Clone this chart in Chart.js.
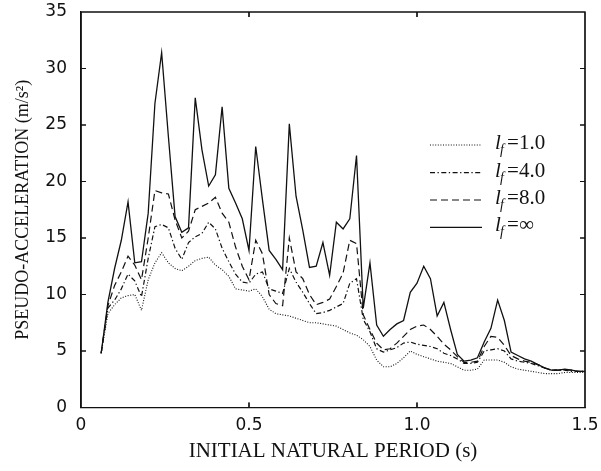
<!DOCTYPE html>
<html><head><meta charset="utf-8">
<script src="https://cdn.jsdelivr.net/npm/chart.js@4.4.0/dist/chart.umd.min.js"></script>
<style>html,body{margin:0;padding:0;background:#fff;} #wrap{width:601px;height:471px;position:relative;}</style>
</head><body><div id="wrap"><canvas id="c" width="601" height="471"></canvas></div>
<script>
const periods = [0.06,0.08,0.10,0.12,0.14,0.16,0.18,0.20,0.22,0.24,0.26,0.28,0.30,0.32,0.34,0.36,0.38,0.40,0.42,0.44,0.46,0.48,0.50,0.52,0.54,0.56,0.58,0.60,0.62,0.64,0.66,0.68,0.70,0.72,0.74,0.76,0.78,0.80,0.82,0.84,0.86,0.88,0.90,0.92,0.94,0.96,0.98,1.00,1.02,1.04,1.06,1.08,1.10,1.12,1.14,1.16,1.18,1.20,1.22,1.24,1.26,1.28,1.30,1.32,1.34,1.36,1.38,1.40,1.42,1.44,1.46,1.48,1.50];

const lf1 = [4.8,8.3,9.1,9.7,9.9,10.0,8.6,11.3,12.8,13.7,12.8,12.3,12.1,12.5,13.0,13.2,13.3,12.6,12.2,11.6,10.5,10.4,10.3,10.5,9.8,8.7,8.3,8.2,8.1,7.9,7.7,7.5,7.5,7.4,7.3,7.2,6.9,6.6,6.4,6.0,5.4,4.2,3.6,3.6,3.9,4.4,5.0,4.7,4.5,4.3,4.1,4.0,3.9,3.6,3.3,3.3,3.4,4.2,4.2,4.2,4.0,3.6,3.4,3.3,3.2,3.1,3.0,3.0,3.0,3.1,3.1,3.1,3.1];

const lf4 = [4.8,8.8,9.5,10.5,11.8,11.2,9.8,13.2,16.0,16.2,15.9,14.1,13.1,14.6,15.1,15.4,16.4,15.8,14.1,12.9,11.8,11.1,11.0,11.8,12.0,10.5,10.3,10.1,12.3,11.1,10.2,9.2,8.3,8.4,8.6,8.9,9.2,11.0,11.4,7.8,6.7,5.2,4.9,5.1,5.3,5.7,5.8,5.6,5.5,5.4,5.2,4.8,4.6,4.3,3.9,3.9,4.0,5.0,5.1,5.2,5.0,4.3,4.1,4.0,3.9,3.7,3.5,3.3,3.3,3.3,3.2,3.2,3.2];

const lf8 = [4.8,9.0,10.8,12.0,13.4,12.6,11.3,15.0,19.2,19.0,18.9,16.6,15.0,15.6,17.5,17.8,18.1,18.6,17.2,16.4,14.2,12.5,11.3,14.8,13.6,10.0,9.2,9.0,15.0,12.0,11.4,10.0,9.1,9.3,9.6,10.7,11.9,14.8,14.5,8.2,6.9,5.7,5.1,5.2,5.7,6.3,6.9,7.2,7.3,6.9,6.3,5.6,5.1,4.5,4.0,4.0,4.1,5.4,6.3,6.2,5.5,4.6,4.3,4.1,4.0,3.8,3.5,3.3,3.3,3.3,3.3,3.2,3.2];

const lfInf = [4.8,9.3,12.3,14.8,18.2,12.8,12.9,17.2,26.9,31.4,24.0,16.9,15.5,15.9,27.4,22.8,19.6,20.6,26.6,19.4,18.1,16.7,13.9,23.1,18.4,13.9,13.1,12.2,25.1,18.7,15.7,12.4,12.5,14.6,11.7,16.4,15.8,16.7,22.3,8.8,12.8,7.3,6.3,6.9,7.4,7.7,10.2,11.0,12.5,11.4,8.1,9.3,6.9,4.7,4.1,4.2,4.4,5.8,7.0,9.5,7.7,4.9,4.6,4.3,4.1,3.8,3.5,3.3,3.3,3.4,3.3,3.2,3.2];

const seriesNames = ['1.0','4.0','8.0','\u221E'];
const xTickValues = [0, 0.5, 1, 1.5];
const yTickValues = [0,5,10,15,20,25,30,35];

const dashes = [[1,1.6],[5,2.5,1.3,2.5],[7,4],[]];
const widths = [1.1,1.2,1.2,1.3];
const seriesValues = [lf1, lf4, lf8, lfInf];

const datasets = seriesValues.map((vals, i) => ({
  label: seriesNames[i],
  data: periods.map((t, k) => ({x: t, y: vals[k]})),
  borderColor: '#111',
  borderWidth: widths[i],
  borderDash: dashes[i],
  pointRadius: 0,
  fill: false,
  tension: 0
}));

function drawFrame(chart) {
  const ctx = chart.ctx;
  const ca = chart.chartArea;
  const xs = chart.scales.x, ys = chart.scales.y;
  const L = ca.left, R = ca.right, T = ca.top, B = ca.bottom;
  ctx.save();
  ctx.setLineDash([]);
  ctx.globalAlpha = 1;
  ctx.strokeStyle = '#111111';
  ctx.lineWidth = 1.2;
  ctx.beginPath();
  ctx.moveTo(L, T); ctx.lineTo(R, T); ctx.lineTo(R, B); ctx.lineTo(L, B); ctx.closePath();
  const tl = 5;
  xTickValues.forEach(v => {
    const px = xs.getPixelForValue(v);
    ctx.moveTo(px, B); ctx.lineTo(px, B - tl);
    ctx.moveTo(px, T); ctx.lineTo(px, T + tl);
  });
  yTickValues.forEach(v => {
    const py = ys.getPixelForValue(v);
    ctx.moveTo(L, py); ctx.lineTo(L + tl, py);
    ctx.moveTo(R, py); ctx.lineTo(R - tl, py);
  });
  ctx.stroke();
  ctx.restore();
}

function drawLegend(chart) {
  const ctx = chart.ctx;
  ctx.save();
  const rows = [145, 172.7, 200, 227.3];
  seriesNames.forEach((name, i) => {
    const ly = rows[i];
    ctx.beginPath();
    ctx.strokeStyle = '#111111';
    ctx.setLineDash(dashes[i]);
    ctx.lineWidth = widths[i];
    ctx.moveTo(430, ly); ctx.lineTo(482, ly);
    ctx.stroke();
    ctx.setLineDash([]);
    ctx.fillStyle = '#111111';
    ctx.textBaseline = 'alphabetic';
    ctx.textAlign = 'left';
    const base = ly + 4;
    ctx.font = 'italic 21px "Liberation Serif", "Times New Roman", serif';
    ctx.fillText('l', 495, base);
    ctx.font = 'italic 14px "Liberation Serif", "Times New Roman", serif';
    ctx.fillText('f', 500, base + 5);
    ctx.font = '21px "Liberation Serif", "Times New Roman", serif';
    ctx.fillText('=', 507, base);
    ctx.fillText(name, 519, base);
  });
  ctx.restore();
}

const framePlugin = {
  id: 'frame',
  afterDatasetsDraw(chart) { drawFrame(chart); },
  afterDraw(chart) { drawFrame(chart); drawLegend(chart); }
};

new Chart(document.getElementById('c'), {
  type: 'line',
  data: { datasets },
  options: {
    responsive: false,
    animation: false,
    layout: { padding: { top: 12, right: 16, left: 0, bottom: 0 } },
    plugins: { legend: { display: false }, tooltip: { enabled: false } },
    scales: {
      x: {
        type: 'linear', min: 0, max: 1.5,
        afterBuildTicks: s => { s.ticks = xTickValues.map(v => ({value: v})); },
        afterFit: s => { s.height = 63.5; s.paddingLeft = 0; s.paddingRight = 0; },
        grid: { display: false, drawTicks: false },
        border: { display: true, color: '#111111', width: 1.2 },
        ticks: { color: '#111', padding: 8, maxRotation: 0, font: { family: '"DejaVu Sans", Arial, sans-serif', size: 17 } },
        title: { display: true, text: 'INITIAL NATURAL PERIOD (s)', color: '#111', padding: { bottom: 7, top: 0 }, font: { family: '"Liberation Serif", "Times New Roman", serif', size: 21 } }
      },
      y: {
        type: 'linear', min: 0, max: 35,
        afterBuildTicks: s => { s.ticks = yTickValues.map(v => ({value: v})); },
        afterFit: s => { s.width = 81; s.paddingTop = 0; s.paddingBottom = 0; },
        grid: { display: false, drawTicks: false },
        border: { display: true, color: '#111111', width: 1.2 },
        ticks: { color: '#111', padding: 14, font: { family: '"DejaVu Sans", Arial, sans-serif', size: 17 } },
        title: { display: true, text: 'PSEUDO-ACCELERATION (m/s\u00B2)', color: '#111', padding: { top: 12, bottom: 0 }, font: { family: '"Liberation Serif", "Times New Roman", serif', size: 18 } }
      }
    }
  },
  plugins: [framePlugin]
});
</script>
</body></html>
